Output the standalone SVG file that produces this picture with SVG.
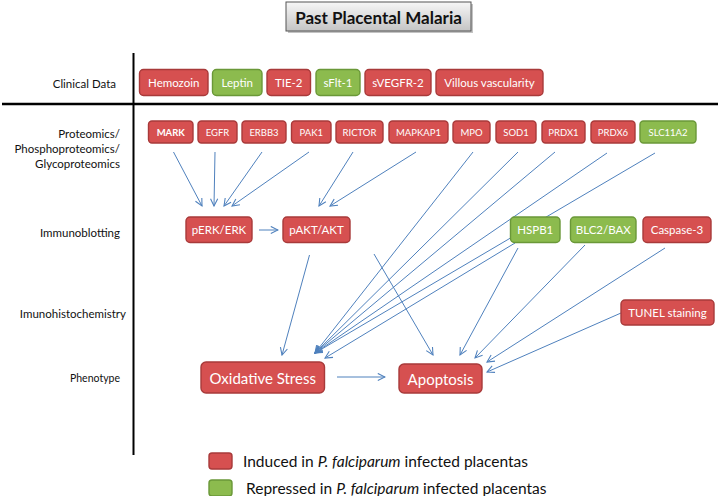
<svg xmlns="http://www.w3.org/2000/svg" width="720" height="496" viewBox="0 0 720 496">
<style>
.lbl{font-family:Lato,"Liberation Sans",sans-serif;font-size:11.5px;fill:#111;text-anchor:end;dominant-baseline:central}
.r{fill:#D65050;stroke:#A83A3A;stroke-width:1.4}
.g{fill:#8CBB4E;stroke:#6A9838;stroke-width:1.4}
.t{font-family:Lato,"Liberation Sans",sans-serif;fill:#fff;text-anchor:middle;dominant-baseline:central}
.s1{font-size:11.5px}
.s2{font-size:9.5px}
.s3{font-size:11.5px}
.s4{font-size:15px}
.c{stroke:#4F81BD;stroke-width:1;fill:none;marker-end:url(#ah)}
.leg{font-family:Lato,"Liberation Sans",sans-serif;font-size:15.5px;fill:#111;dominant-baseline:central}
</style>
<defs>
<linearGradient id="tg" x1="0" y1="0" x2="0" y2="1">
<stop offset="0" stop-color="#f7f7f7"/>
<stop offset="1" stop-color="#c4c4c4"/>
</linearGradient>
<marker id="ah" viewBox="0 0 10 10" refX="9" refY="5" markerWidth="9" markerHeight="9" markerUnits="userSpaceOnUse" orient="auto">
<path d="M1,1 L9,5 L1,9" fill="none" stroke="#4F81BD" stroke-width="1.2"/>
</marker>
</defs>
<rect width="720" height="496" fill="#fff"/>

<g id="title">
<rect x="288" y="4" width="185" height="29" fill="#888" opacity="0.5"/>
<rect x="286" y="2" width="185" height="29" fill="url(#tg)" stroke="#555" stroke-width="1"/>
<text x="378.5" y="17" text-anchor="middle" dominant-baseline="central" font-family="Lato,'Liberation Sans',sans-serif" font-weight="bold" font-size="17" fill="#111">Past Placental Malaria</text>
</g>

<g id="axes">
<line x1="133.5" y1="53" x2="133.5" y2="455" stroke="#000" stroke-width="2"/>
<line x1="2" y1="104" x2="718" y2="104" stroke="#000" stroke-width="2.5"/>
</g>

<g id="row-labels">
<text class="lbl" x="116" y="83">Clinical Data</text>
<text class="lbl" x="120" y="133">Proteomics/</text>
<text class="lbl" x="120" y="148">Phosphoproteomics/</text>
<text class="lbl" x="120" y="163">Glycoproteomics</text>
<text class="lbl" x="120" y="232">Immunoblotting</text>
<text class="lbl" x="126" y="313">Imunohistochemistry</text>
<text class="lbl" x="120" y="378" style="font-size:10.5px">Phenotype</text>
</g>

<g id="connectors">
<line class="c" x1="173.5" y1="152" x2="202" y2="206"/>
<line class="c" x1="215" y1="152" x2="214" y2="206"/>
<line class="c" x1="262" y1="152" x2="224" y2="206"/>
<line class="c" x1="309" y1="152" x2="232" y2="206"/>
<line class="c" x1="353" y1="152" x2="319" y2="206"/>
<line class="c" x1="416" y1="152" x2="330" y2="206"/>
<line class="c" x1="259" y1="230" x2="278" y2="230"/>
<line class="c" x1="309.5" y1="255" x2="282" y2="355"/>
<line class="c" x1="374" y1="254" x2="433" y2="355"/>
<line class="c" x1="473" y1="152" x2="315" y2="353"/>
<line class="c" x1="518" y1="152" x2="315" y2="353"/>
<line class="c" x1="555" y1="152" x2="315" y2="353"/>
<line class="c" x1="607" y1="153" x2="315" y2="353"/>
<line class="c" x1="655" y1="153" x2="315" y2="353"/>
<line class="c" x1="515" y1="243" x2="325" y2="358"/>
<line class="c" x1="518" y1="248" x2="460" y2="355"/>
<line class="c" x1="585" y1="245" x2="475" y2="358"/>
<line class="c" x1="665" y1="248" x2="487" y2="362"/>
<line class="c" x1="621" y1="313" x2="487" y2="372"/>
<line class="c" x1="337" y1="377" x2="385" y2="377"/>
</g>

<g id="n-hemozoin"><rect class="r" x="139.5" y="69.5" width="68.5" height="26" rx="4"/><text class="t s1" x="173.75" y="82.5">Hemozoin</text></g>
<g id="n-leptin"><rect class="g" x="212.5" y="69.5" width="49.5" height="26" rx="4"/><text class="t s1" x="237.25" y="82.5">Leptin</text></g>
<g id="n-tie2"><rect class="r" x="267" y="69.5" width="43.5" height="26" rx="4"/><text class="t s1" x="288.75" y="82.5">TIE-2</text></g>
<g id="n-sflt1"><rect class="g" x="316" y="69.5" width="44" height="26" rx="4"/><text class="t s1" x="338" y="82.5">sFlt-1</text></g>
<g id="n-svegfr2"><rect class="r" x="365" y="69.5" width="66" height="26" rx="4"/><text class="t s1" x="398" y="82.5">sVEGFR-2</text></g>
<g id="n-villous"><rect class="r" x="436" y="69.5" width="107" height="26" rx="4"/><text class="t s1" x="489.5" y="82.5">Villous vascularity</text></g>

<g id="n-mark"><rect class="r" x="148.5" y="121" width="44.5" height="22" rx="3.5"/><text class="t s2" x="170.75" y="132" font-weight="bold">MARK</text></g>
<g id="n-egfr"><rect class="r" x="198" y="121" width="39" height="22" rx="3.5"/><text class="t s2" x="217.5" y="132">EGFR</text></g>
<g id="n-erbb3"><rect class="r" x="242" y="121" width="44" height="22" rx="3.5"/><text class="t s2" x="264" y="132">ERBB3</text></g>
<g id="n-pak1"><rect class="r" x="291.5" y="121" width="39.5" height="22" rx="3.5"/><text class="t s2" x="311.25" y="132">PAK1</text></g>
<g id="n-rictor"><rect class="r" x="336" y="121" width="47" height="22" rx="3.5"/><text class="t s2" x="359.5" y="132">RICTOR</text></g>
<g id="n-mapkap1"><rect class="r" x="389" y="121" width="59" height="22" rx="3.5"/><text class="t s2" x="418.5" y="132">MAPKAP1</text></g>
<g id="n-mpo"><rect class="r" x="453" y="121" width="37" height="22" rx="3.5"/><text class="t s2" x="471.5" y="132">MPO</text></g>
<g id="n-sod1"><rect class="r" x="496" y="121" width="40" height="22" rx="3.5"/><text class="t s2" x="516" y="132">SOD1</text></g>
<g id="n-prdx1"><rect class="r" x="542" y="121" width="43" height="22" rx="3.5"/><text class="t s2" x="563.5" y="132">PRDX1</text></g>
<g id="n-prdx6"><rect class="r" x="591" y="121" width="44" height="22" rx="3.5"/><text class="t s2" x="613" y="132">PRDX6</text></g>
<g id="n-slc11a2"><rect class="g" x="640" y="121" width="56" height="22" rx="3.5"/><text class="t s2" x="668" y="132">SLC11A2</text></g>

<g id="n-perk"><rect class="r" x="186" y="217" width="66" height="25.5" rx="4"/><text class="t s3" x="219" y="229.75">pERK/ERK</text></g>
<g id="n-pakt"><rect class="r" x="283" y="217" width="67" height="25.5" rx="4"/><text class="t s3" x="316.5" y="229.75">pAKT/AKT</text></g>
<g id="n-hspb1"><rect class="g" x="510.5" y="217" width="49.5" height="25.5" rx="4"/><text class="t s3" x="535.25" y="229.75">HSPB1</text></g>
<g id="n-blc2bax"><rect class="g" x="570.5" y="217" width="65.5" height="25.5" rx="4"/><text class="t s3" x="603.25" y="229.75">BLC2/BAX</text></g>
<g id="n-caspase3"><rect class="r" x="643" y="217" width="68" height="25.5" rx="4"/><text class="t s3" x="677" y="229.75">Caspase-3</text></g>

<g id="n-tunel"><rect class="r" x="621" y="300" width="93" height="25" rx="4"/><text class="t s3" x="667.5" y="312.5">TUNEL staining</text></g>

<g id="n-oxstress"><rect class="r" x="201" y="362" width="123.5" height="31" rx="5"/><text class="t s4" x="262.75" y="377.5">Oxidative Stress</text></g>
<g id="n-apoptosis"><rect class="r" x="399" y="364" width="83" height="29" rx="5"/><text class="t s4" x="440.5" y="378.5">Apoptosis</text></g>

<g id="legend">
<rect class="r" x="209" y="453" width="23" height="16" rx="3"/>
<text class="leg" x="243" y="461">Induced in <tspan font-style="italic">P. falciparum</tspan> infected placentas</text>
<rect class="g" x="209" y="480" width="23" height="16" rx="3"/>
<text class="leg" x="246" y="488">Repressed in <tspan font-style="italic">P. falciparum</tspan> infected placentas</text>
</g>
</svg>
